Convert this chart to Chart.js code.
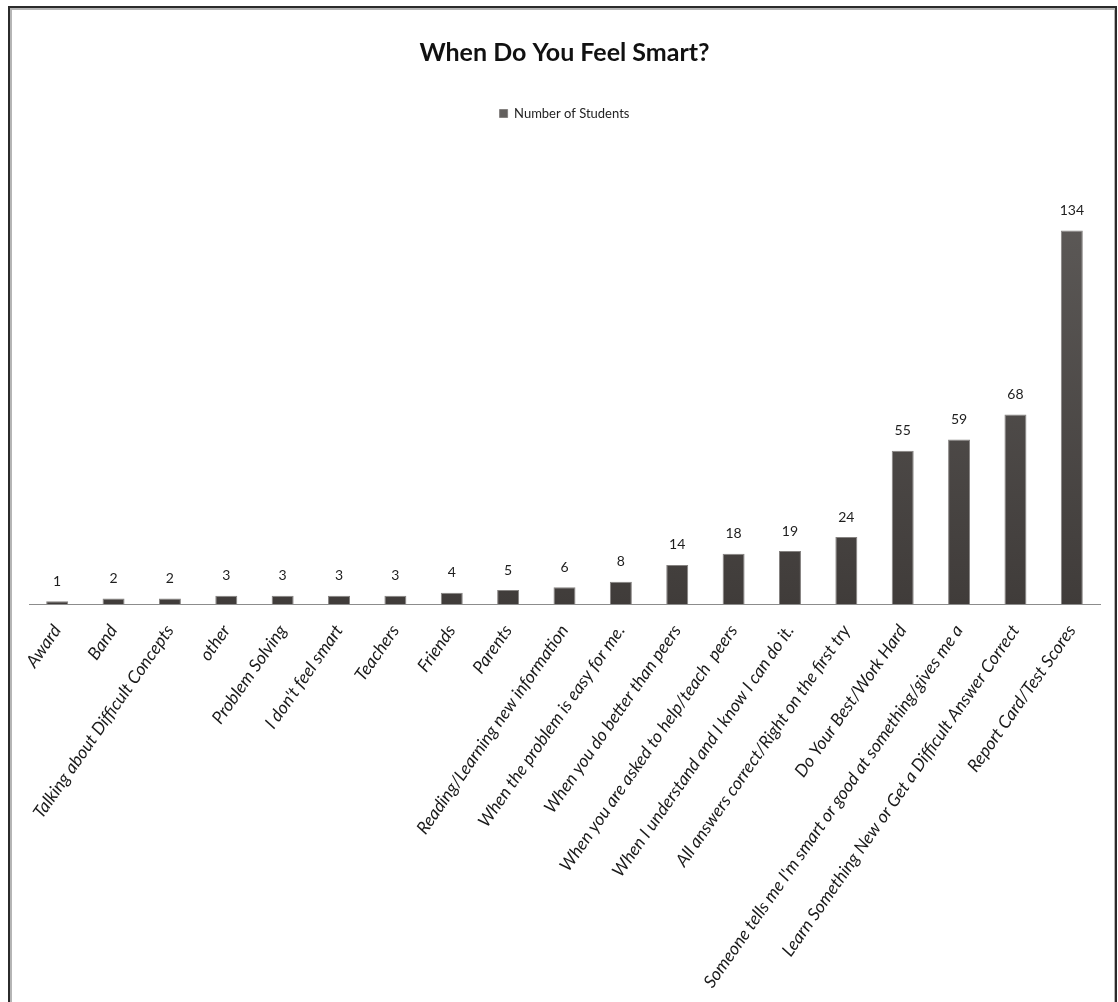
<!DOCTYPE html>
<html>
<head>
<meta charset="utf-8">
<title>When Do You Feel Smart?</title>
<script src="https://cdn.jsdelivr.net/npm/chart.js@4/dist/chart.umd.min.js"></script>
<style>
  html, body { margin: 0; padding: 0; background: #fff; }
  body { width: 1118px; height: 1002px; position: relative; overflow: hidden; }
  #frame {
    position: absolute; left: 8px; top: 6px; width: 1105px; height: 1010px;
    border: 2px solid #2b2b2b; border-bottom: none;
    box-shadow: inset 2px 2px 0 #b5b5b5, inset -1px 0 0 #b5b5b5;
  }
  #wrap { position: absolute; left: 0; top: 0; width: 1118px; height: 1002px; }
</style>
</head>
<body>
<div id="frame"></div>
<div id="wrap"><canvas id="grafico" width="1118" height="1002"></canvas></div>
<script>
const categorias = [
  "Award",
  "Band",
  "Talking about Difficult Concepts",
  "other",
  "Problem Solving",
  "I don't feel smart",
  "Teachers",
  "Friends",
  "Parents",
  "Reading/Learning new information",
  "When the problem is easy for me.",
  "When you do better than peers",
  "When you are asked to help/teach  peers",
  "When I understand and I know I can do it.",
  "All answers correct/Right on the first try",
  "Do Your Best/Work Hard",
  "Someone tells me I'm smart or good at something/gives me a",
  "Learn Something New or Get a Difficult Answer Correct",
  "Report Card/Test Scores"
]
const estudiantes = [1, 2, 2, 3, 3, 3, 3, 4, 5, 6, 8, 14, 18, 19, 24, 55, 59, 68, 134]
const serieNombre = "Number of Students"
const titulo = "When Do You Feel Smart?"

// numbers above each bar
const etiquetasValor = {
  id: 'etiquetasValor',
  afterDatasetsDraw(chart) {
    const ctx = chart.ctx
    const meta = chart.getDatasetMeta(0)
    ctx.save()
    ctx.font = '14px Lato'
    ctx.fillStyle = '#1e1e1e'
    ctx.textAlign = 'center'
    ctx.textBaseline = 'middle'
    meta.data.forEach((bar, i) => {
      ctx.fillText(String(chart.data.datasets[0].data[i]), bar.x, bar.y - 20)
    })
    ctx.restore()
  }
}

function degradado(context) {
  const area = context.chart.chartArea
  if (!area) return '#4a4644'
  const g = context.chart.ctx.createLinearGradient(0, area.top, 0, area.bottom)
  g.addColorStop(0, '#625f5d')
  g.addColorStop(1, '#403c3a')
  return g
}

const config = {
  type: 'bar',
  data: {
    labels: categorias,
    datasets: [{
      label: serieNombre,
      data: estudiantes,
      backgroundColor: degradado,
      borderColor: '#858280',
      borderWidth: 1,
      borderSkipped: 'bottom',
      categoryPercentage: 1,
      barPercentage: 0.39
    }]
  },
  plugins: [etiquetasValor],
  options: {
    responsive: false,
    animation: false,
    layout: { padding: { left: 29, right: 18, top: 0, bottom: 0 } },
    plugins: {
      title: {
        display: true,
        text: titulo,
        color: '#111',
        font: { family: 'Lato', size: 25, weight: 'bold' },
        padding: { top: 38, bottom: 29 }
      },
      legend: {
        display: true,
        labels: {
          color: '#222',
          font: { family: 'Lato', size: 13 },
          boxWidth: 8,
          boxHeight: 8,
          padding: 10
        }
      },
      tooltip: { enabled: false }
    },
    scales: {
      x: {
        grid: { display: false },
        border: { display: true, color: '#8c8c8c', width: 1 },
        // the category labels hang below the axis down to the bottom edge
        afterFit: (scale) => { scale.height = 398 },
        ticks: {
          autoSkip: false,
          maxRotation: 55,
          minRotation: 55,
          padding: 9,
          color: '#1a1a1a',
          font: { family: 'Lato', size: 17.5, style: 'italic' }
        }
      },
      y: {
        display: false,
        min: 0,
        max: 170
      }
    }
  }
}

const chart = new Chart(document.getElementById('grafico'), config)
</script>
</body>
</html>
